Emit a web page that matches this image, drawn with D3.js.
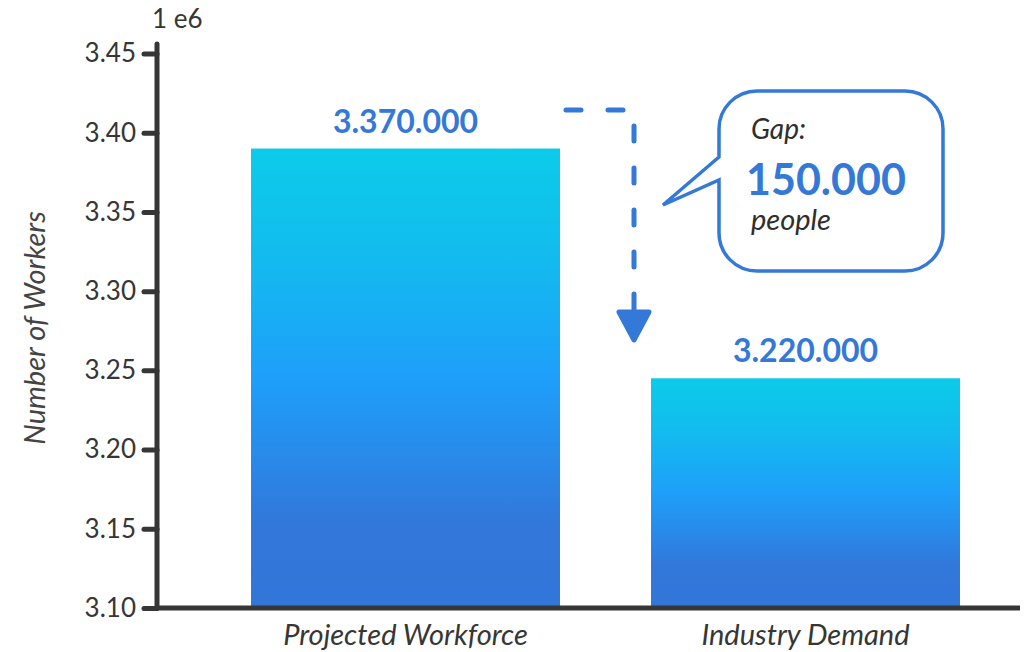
<!DOCTYPE html>
<html>
<head>
<meta charset="utf-8">
<script src="https://cdn.jsdelivr.net/npm/d3@7"></script>
<style>
  html, body { margin: 0; padding: 0; background: #fff; }
  svg { display: block; }
  text { font-family: Lato, "Source Sans Pro", "Noto Sans", sans-serif; }
</style>
</head>
<body>
<svg id="chart" width="1026" height="652"></svg>
<script>
// ---- data ----
const categories = ["Projected Workforce", "Industry Demand"];
const barValues = [3390000, 3245000];          // bar heights as drawn
const barLabels = ["3.370.000", "3.220.000"];  // printed value labels
const yTicks = [3100000, 3150000, 3200000, 3250000, 3300000, 3350000, 3400000, 3450000];
const yTickLabels = ["3.10", "3.15", "3.20", "3.25", "3.30", "3.35", "3.40", "3.45"];
const gapTitle = "Gap:";
const gapValue = "150.000";
const gapUnit = "people";
const yAxisTitle = "Number of Workers";
const offsetText = "1 e6";

const svg = d3.select("#chart");
const axisColor = "#363636";
const blue = "#3478d8";
const FONT = "Lato, 'Source Sans Pro', sans-serif";

const y = d3.scaleLinear().domain([3100000, 3456000]).range([608, 44]);
const x = d3.scaleBand().domain(categories).range([205.5, 1005.5])
  .paddingInner(0.2275).paddingOuter(0.11375);

// gradient
const defs = svg.append("defs");
const grad = defs.append("linearGradient").attr("id", "barGrad")
  .attr("x1", 0).attr("y1", 0).attr("x2", 0).attr("y2", 1);
[[0, "#0ccbe9"], [0.22, "#12bdee"], [0.5, "#1e9ffa"], [0.82, "#3277da"], [1, "#3376da"]]
  .forEach(([o, c]) => grad.append("stop").attr("offset", o).attr("stop-color", c));

// bars
svg.append("g").selectAll("rect").data(categories).join("rect")
  .attr("x", d => x(d))
  .attr("y", (d, i) => y(barValues[i]))
  .attr("width", x.bandwidth())
  .attr("height", (d, i) => y(3100000) - y(barValues[i]))
  .attr("fill", "url(#barGrad)");

// value labels
svg.append("g").selectAll("text").data(categories).join("text")
  .attr("x", d => x(d) + x.bandwidth() / 2)
  .attr("y", (d, i) => y(barValues[i]) - 16)
  .attr("text-anchor", "middle")
  .attr("fill", blue)
  .attr("font-weight", 700)
  .attr("font-size", 32)
  .text((d, i) => barLabels[i]);

// y axis
const yAxis = d3.axisLeft(y).tickValues(yTicks).tickSize(13).tickPadding(8)
  .tickFormat((d, i) => yTickLabels[i]);
const gy = svg.append("g").attr("transform", "translate(157,0)").call(yAxis);
gy.select(".domain").remove();
gy.append("line").attr("x1", 0).attr("x2", 0).attr("y1", y.range()[1]).attr("y2", 608)
  .attr("stroke", axisColor).attr("stroke-width", 5).attr("stroke-linecap", "round");
gy.selectAll(".tick line").attr("stroke", axisColor).attr("stroke-width", 5).attr("stroke-linecap", "round");
gy.selectAll(".tick text").attr("fill", axisColor).attr("font-size", 26)
  .style("font-family", FONT);

// x axis
const xAxis = d3.axisBottom(x).tickSize(0).tickPadding(16);
const gx = svg.append("g").attr("transform", "translate(0,608)").call(xAxis);
gx.select(".domain").remove();
gx.append("line").attr("x1", 157).attr("x2", 1020).attr("y1", 0).attr("y2", 0)
  .attr("stroke", axisColor).attr("stroke-width", 5);
gx.selectAll(".tick text").attr("fill", axisColor).attr("font-size", 29)
  .attr("font-style", "italic")
  .style("font-family", FONT);

// offset text
svg.append("text").attr("x", 152).attr("y", 28).attr("fill", axisColor)
  .attr("font-size", 26).text(offsetText);

// y-axis title
svg.append("text")
  .attr("transform", "translate(45,328) rotate(-90)")
  .attr("text-anchor", "middle")
  .attr("fill", "#444")
  .attr("font-size", 29)
  .attr("font-style", "italic")
  .text(yAxisTitle);

// dashed arrow
const arrowTopY = 110;
const arrowX = 634;
const arrowTipY = 342;
svg.append("path")
  .attr("d", `M566,${arrowTopY} H${arrowX} V${arrowTipY - 30}`)
  .attr("fill", "none").attr("stroke", blue).attr("stroke-width", 5)
  .attr("stroke-linecap", "round").attr("stroke-linejoin", "round")
  .attr("stroke-dasharray", "15 27");
svg.append("path")
  .attr("d", `M${arrowX - 15},${arrowTipY - 30} L${arrowX + 15},${arrowTipY - 30} L${arrowX},${arrowTipY - 2} Z`)
  .attr("fill", blue).attr("stroke", blue).attr("stroke-width", 5).attr("stroke-linejoin", "round");

// callout box
const bx = 719, by = 91, bw = 224, bh = 180, r = 38;
const tailTop = 157, tailBot = 180, tipX = 663, tipY = 205;
const calloutPath = `M${bx + r},${by} H${bx + bw - r} A${r},${r} 0 0 1 ${bx + bw},${by + r}
  V${by + bh - r} A${r},${r} 0 0 1 ${bx + bw - r},${by + bh}
  H${bx + r} A${r},${r} 0 0 1 ${bx},${by + bh - r}
  V${tailBot} L${tipX},${tipY} L${bx},${tailTop}
  V${by + r} A${r},${r} 0 0 1 ${bx + r},${by} Z`;
svg.append("path").attr("d", calloutPath)
  .attr("fill", "#fff").attr("stroke", blue).attr("stroke-width", 3.5)
  .attr("stroke-linejoin", "miter");

svg.append("text").attr("x", 751).attr("y", 139).attr("fill", "#2e2e2e")
  .attr("font-size", 28).attr("font-style", "italic").text(gapTitle);
svg.append("text").attr("x", 746).attr("y", 195).attr("fill", blue)
  .attr("font-size", 43).attr("font-weight", 700).text(gapValue);
svg.append("text").attr("x", 751).attr("y", 230).attr("fill", "#2e2e2e")
  .attr("font-size", 29).attr("font-style", "italic").text(gapUnit);
</script>
</body>
</html>
